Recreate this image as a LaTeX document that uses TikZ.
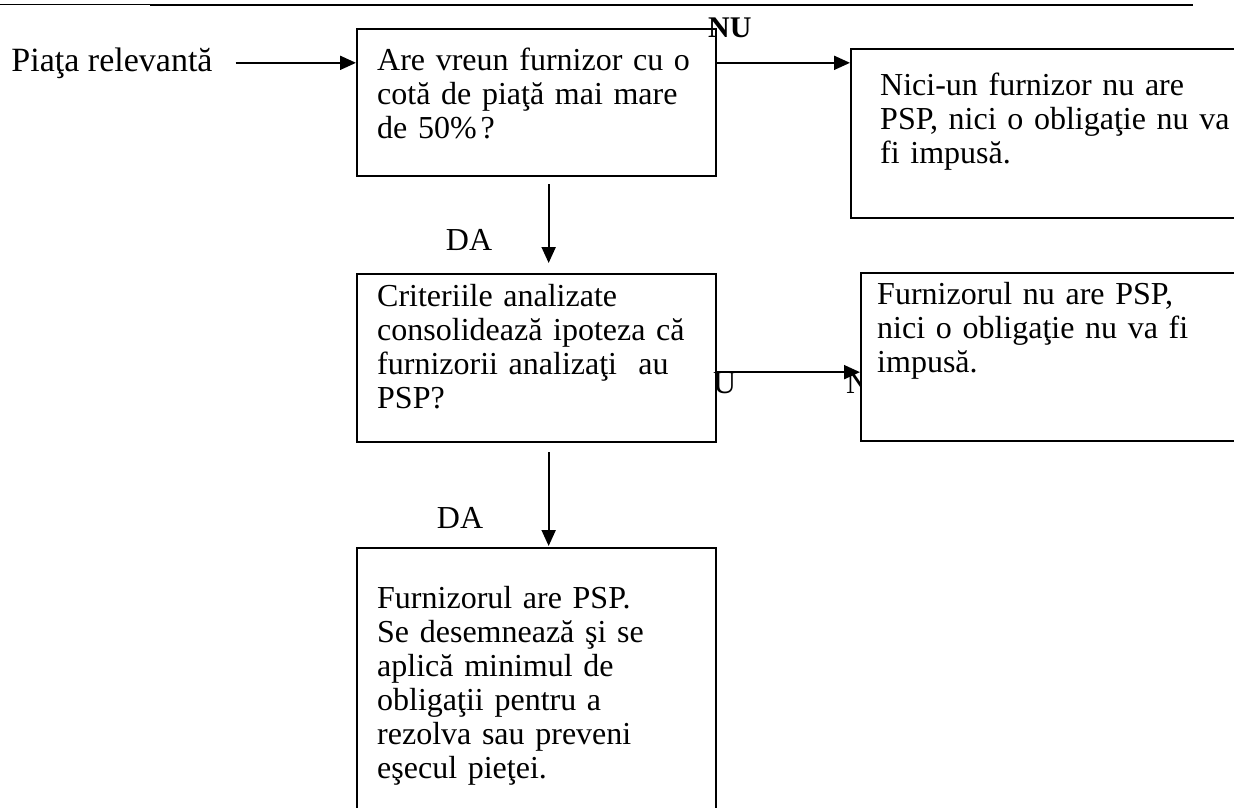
\documentclass[tikz,border=0pt]{standalone}
\usepackage{fontspec}
\setmainfont{Liberation Serif}
\usepackage{tikz}
\usetikzlibrary{arrows.meta}

\begin{document}
\begin{tikzpicture}[x=1pt, y=-1pt,
  box/.style = {draw, line width=2.3pt, fill=white, anchor=north west, inner sep=0pt},
  txt/.style = {anchor=base west, inner sep=0pt, text width=380pt, align=left,
                font=\fontsize{32}{34}\selectfont},
  lbl/.style = {inner sep=0pt, font=\fontsize{32}{34}\selectfont},
  arr/.style = {line width=2pt, -{Triangle[length=16pt, width=14pt]}}]
\useasboundingbox (0,0) rectangle (1234,807);
\draw[line width=1pt] (0,4) -- (150,4);
\draw[line width=2.4pt] (150,5) -- (1193,5);

\node[lbl, anchor=base, font=\fontsize{34}{34}\selectfont] (piata) at (112,71) {Piaţa relevantă};
\node[lbl, anchor=base west] (nu2b) at (846,393) {N};

\node[box, minimum width=359, minimum height=147] (q1) at (356,28) {};
\node[box, minimum width=359, minimum height=168] (q2) at (356,273) {};
\node[box, minimum width=420, minimum height=169] (r1) at (850,48) {};
\node[box, minimum width=410, minimum height=168] (r2) at (860,272) {};
\node[box, minimum width=359, minimum height=300] (r3) at (356,547) {};

\node[txt] (q1txt) at (377,70) {Are vreun furnizor cu o\\ cotă de piaţă mai mare\\ de 50\%\hspace{4pt}?};
\node[txt] (q2txt) at (377,306) {Criteriile analizate\\ consolidează ipoteza că\\ furnizorii analizaţi\ \ au\\ PSP?};
\node[txt] (r1txt) at (880,95) {Nici-un furnizor nu are\\ PSP, nici o obligaţie nu va\\ fi impusă.};
\node[txt] (r2txt) at (877,304) {Furnizorul nu are PSP,\\ nici o obligaţie nu va fi\\ impusă.};
\node[txt] (r3txt) at (377,608) {Furnizorul are PSP.\\ Se desemnează şi se\\ aplică minimul de\\ obligaţii pentru a\\ rezolva sau preveni\\ eşecul pieţei.};

\node[lbl, anchor=base west, font=\fontsize{30}{34}\selectfont\bfseries] (nu1) at (708,37) {NU};
\node[lbl, anchor=base west] (nu2a) at (713,393) {U};
\node[lbl] (da1) at (469,240) {DA};
\node[lbl] (da2) at (460,518) {DA};

\draw[arr] ([xshift=23pt]piata.east) -- (piata -| q1.west);
\draw[arr] (piata -| q1.east) -- (piata -| r1.west);
\draw[arr] ([xshift=12pt, yshift=-7pt]q1.south) -- ([xshift=12pt, yshift=10pt]q2.north);
\draw[arr] ([yshift=-14pt]q2.east) coordinate (b2) -- (b2 -| r2.west);
\draw[arr] ([xshift=12pt, yshift=-9pt]q2.south) -- ([xshift=12pt, yshift=1pt]r3.north);
\end{tikzpicture}
\end{document}
